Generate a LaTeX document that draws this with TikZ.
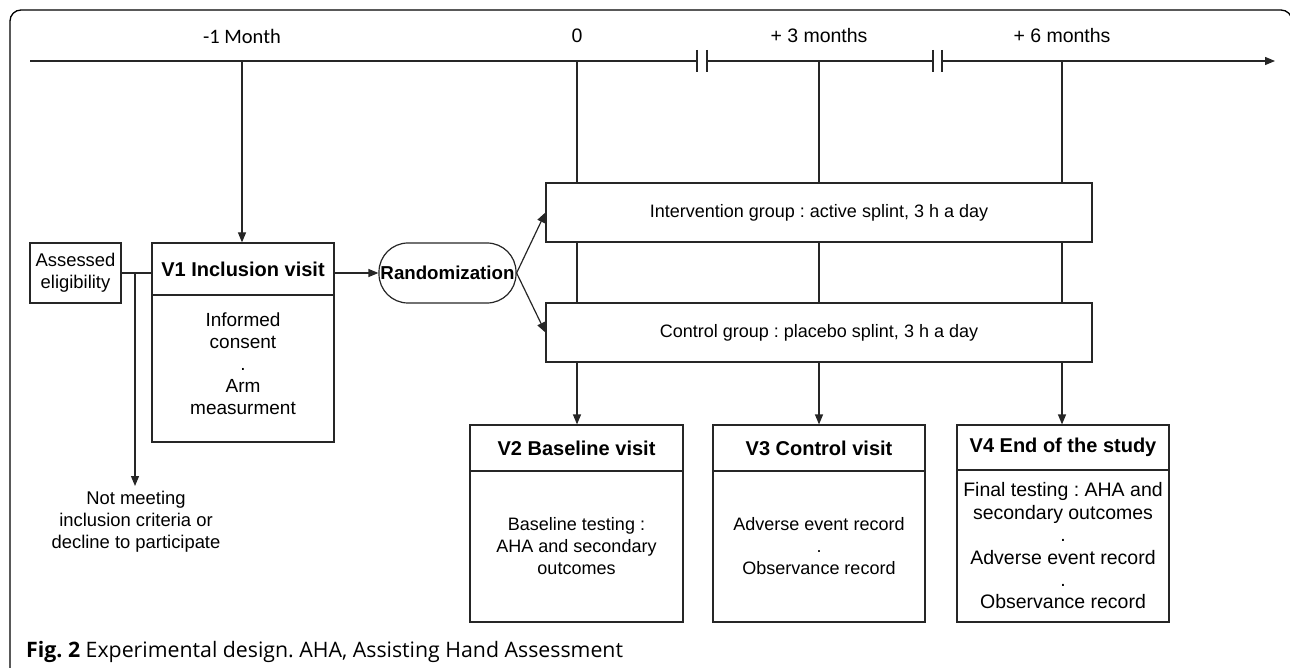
\documentclass[tikz,border=0pt]{standalone}
\usepackage{fontspec}
\setmainfont{Liberation Sans}
\newfontfamily\capfont{Open Sans}
\newfontfamily\calfont{Carlito}
\usetikzlibrary{arrows.meta,calc}
\frenchspacing
\begin{document}
\begin{tikzpicture}[x=1pt,y=-1pt,
  ln/.style={line width=1.2pt, draw=black!85},
  arr/.style={ln,-{Triangle[length=10pt,width=8pt]}},
  box/.style={ln, rectangle, inner sep=0pt, align=center, font=\frenchspacing\fontsize{18}{22}\selectfont},
  hdr/.style={box, font=\bfseries\fontsize{20}{24}\selectfont},
  lbl/.style={inner sep=0pt, align=center, font=\frenchspacing\fontsize{18}{22}\selectfont}]
\useasboundingbox (0,0) rectangle (1290,668);
% frame
\draw[line width=1.3pt, rounded corners=11pt] (10,672) -- (10,10) -- (1292,10) -- (1292,120);
% timeline
\coordinate (tl0) at (30,61);
\coordinate (tl1) at (1275,61);
\coordinate (bA1) at (697,61);
\coordinate (bA2) at (707,61);
\coordinate (bB1) at (933,61);
\coordinate (bB2) at (942,61);
\draw[ln] (tl0) -- (bA1);
\draw[ln] (bA2) -- (bB1);
\draw[arr] (bB2) -- (tl1);
\foreach \b in {bA1,bA2,bB1,bB2} \draw[ln] ($(\b)+(0,-11)$) -- ($(\b)+(0,11)$);
\coordinate (tm) at (242,61);
\coordinate (t0) at (577,61);
\coordinate (t3) at (819,61);
\coordinate (t6) at (1062,61);
\node[lbl, font=\calfont\fontsize{20.5}{24}\selectfont] (lm) at (242,36) {-1 Month};
\node[lbl, font=\fontsize{19.5}{23}\selectfont] (l0) at (577,36) {0};
\node[lbl, font=\fontsize{19.5}{23}\selectfont] (l3) at (819,36) {+ 3 months};
\node[lbl, font=\fontsize{19.5}{23}\selectfont] (l6) at (1062,36) {+ 6 months};
% boxes
\node[box, minimum width=91pt, minimum height=60pt, font=\fontsize{18.4}{22}\selectfont] (assess) at (75.5,273) {Assessed\\eligibility};
\node[hdr, minimum width=182pt, minimum height=52pt] (v1h) at (243,269) {V1 Inclusion visit};
\node[box, minimum width=182pt, minimum height=147pt] (v1b) at (243,368.5) {};
\node[lbl, font=\fontsize{19}{22}\selectfont] (v1t) at (243,364) {Informed\\consent\\.\\Arm\\measurment};
\node[hdr, rounded corners=29pt, minimum width=137pt, minimum height=60pt, font=\bfseries\fontsize{18.7}{22}\selectfont] (rand) at (447.5,273) {Randomization};
\node[box, minimum width=546pt, minimum height=59pt] (interv) at (819,212.5) {Intervention group : active splint, 3 h a day};
\node[box, minimum width=546pt, minimum height=59pt] (ctrl) at (819,332.5) {Control group : placebo splint, 3 h a day};
\node[hdr, minimum width=213pt, minimum height=46pt] (v2h) at (576.5,448) {V2 Baseline visit};
\node[box, minimum width=213pt, minimum height=151pt] (v2b) at (576.5,546.5) {Baseline testing :\\AHA and secondary\\outcomes};
\node[hdr, minimum width=212pt, minimum height=46pt] (v3h) at (819,448) {V3 Control visit};
\node[box, minimum width=212pt, minimum height=151pt] (v3b) at (819,546.5) {Adverse event record\\.\\Observance record};
\node[hdr, minimum width=212pt, minimum height=45pt] (v4h) at (1063,447.5) {V4 End of the study};
\node[box, minimum width=212pt, minimum height=152pt, font=\frenchspacing\fontsize{19.5}{22.4}\selectfont] (v4b) at (1063,546) {Final testing : AHA and\\secondary outcomes\\.\\Adverse event record\\.\\Observance record};
\node[lbl, anchor=north, font=\fontsize{18.4}{22}\selectfont] (notmeet) at (136,491) {Not meeting\\inclusion criteria or\\decline to participate};
% connectors
\draw[arr] (tm) -- (tm |- v1h.north);
\foreach \t/\a in {t0/v2h, t3/v3h, t6/v4h}{
  \draw[ln] (\t) -- (\t |- interv.north);
  \draw[ln] (\t |- interv.south) -- (\t |- ctrl.north);
  \draw[arr] (\t |- ctrl.south) -- (\t |- \a.north);
}
\draw[ln] (assess.east) -- (assess.east -| v1h.west);
\coordinate (jn) at (135,273);
\draw[arr] (jn) -- ($(jn |- notmeet.north)+(0,-5)$);
\draw[arr] (rand.west -| v1h.east) -- (rand.west);
\draw[arr] (rand.east) -- (interv.west);
\draw[arr] (rand.east) -- (ctrl.west);
% caption
\node[anchor=base west, inner sep=0pt, font=\capfont\fontsize{21.3}{25}\selectfont] (cap) at (26,657) {\textbf{Fig. 2} Experimental design. AHA, Assisting Hand Assessment};
\end{tikzpicture}
\end{document}
